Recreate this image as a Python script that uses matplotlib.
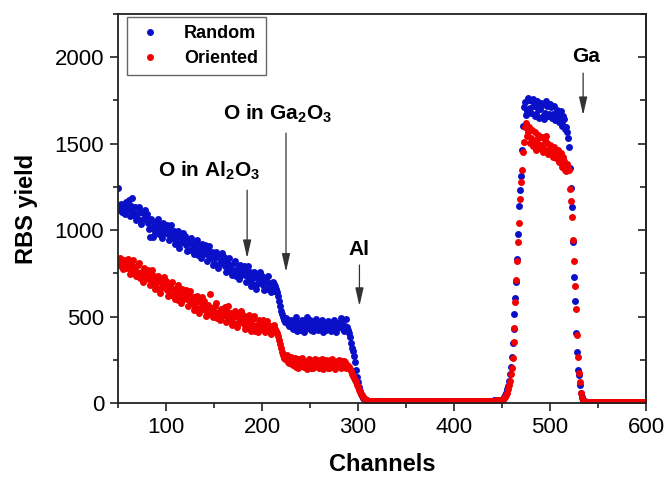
import numpy as np
import matplotlib
matplotlib.use("Agg")
import matplotlib.pyplot as plt
from matplotlib.ticker import MultipleLocator

plt.rcParams['font.family'] = ['Liberation Sans', 'DejaVu Sans']
plt.rcParams['mathtext.fontset'] = 'custom'
plt.rcParams['mathtext.rm'] = 'Liberation Sans'
plt.rcParams['mathtext.bf'] = 'Liberation Sans:bold'

# channel axis, one point per channel
channels = np.arange(50, 601)

# RBS yield, random incidence
random_yield = [
    1245, 1130, 1118, 1150, 1105, 1142, 1128, 1095, 1160, 1122,
    1140, 1172, 1119, 1081, 1138, 1185, 1087, 1099, 1136, 1058,
    1070, 1101, 1132, 1103, 1034, 1060, 1101, 1067, 1118, 1074,
    1095, 1041, 1007, 962, 1064, 1010, 958, 1042, 1008, 984,
    1010, 1047, 1064, 976, 1003, 1020, 957, 1039, 981, 1013,
    1000, 1032, 979, 941, 998, 1030, 957, 969, 996, 918,
    930, 962, 994, 966, 898, 925, 967, 934, 986, 943,
    965, 912, 879, 926, 938, 885, 957, 919, 886, 863,
    890, 927, 944, 856, 884, 900, 837, 919, 861, 893,
    880, 912, 859, 821, 878, 910, 837, 849, 876, 798,
    810, 842, 874, 846, 778, 805, 847, 814, 866, 823,
    845, 792, 759, 806, 818, 765, 837, 799, 766, 743,
    770, 807, 824, 736, 764, 780, 717, 799, 741, 773,
    760, 792, 739, 701, 758, 790, 717, 729, 756, 678,
    690, 723, 756, 729, 662, 690, 733, 705, 756, 712,
    735, 683, 651, 699, 712, 660, 733, 696, 664, 642,
    672, 700, 690, 650, 675, 660, 640, 618, 590, 562,
    535, 512, 495, 482, 470, 492, 478, 458, 448, 475,
    482, 440, 428, 462, 478, 495, 418, 438, 465, 450,
    425, 470, 480, 448, 412, 440, 472, 495, 432, 460,
    478, 425, 445, 415, 468, 458, 485, 435, 420, 452,
    440, 470, 482, 428, 412, 455, 465, 422, 445, 475,
    462, 432, 418, 442, 470, 480, 425, 412, 435, 458,
    438, 468, 490, 455, 428, 418, 445, 488, 430, 440,
    425, 405, 380, 347, 320, 300, 270, 239, 190, 150,
    123, 95, 70, 52, 40, 30, 24, 20, 16, 13,
    11, 10, 9, 11, 8, 10, 9, 12, 8, 9,
    8, 10, 7, 9, 11, 8, 9, 7, 10, 8,
    9, 7, 10, 8, 6, 9, 11, 8, 7, 9,
    8, 10, 7, 9, 8, 6, 9, 10, 7, 8,
    9, 8, 6, 10, 8, 7, 9, 8, 11, 7,
    8, 9, 7, 8, 10, 6, 8, 9, 7, 10,
    7, 9, 8, 6, 9, 8, 10, 7, 8, 9,
    8, 7, 10, 9, 6, 8, 9, 7, 8, 10,
    9, 8, 7, 9, 10, 8, 6, 9, 8, 7,
    10, 8, 9, 7, 8, 9, 11, 8, 7, 9,
    8, 10, 9, 7, 8, 9, 8, 10, 9, 11,
    9, 10, 8, 11, 9, 10, 12, 9, 11, 10,
    12, 10, 11, 13, 10, 12, 11, 13, 12, 14,
    13, 12, 15, 13, 14, 16, 15, 17, 16, 18,
    20, 25, 35, 45, 60, 80, 100, 130, 165, 208,
    266, 347, 430, 514, 607, 699, 832, 977, 1139, 1231,
    1314, 1462, 1601, 1713, 1742, 1665, 1690, 1765, 1752, 1705,
    1680, 1745, 1760, 1715, 1660, 1672, 1748, 1738, 1700, 1650,
    1702, 1735, 1722, 1658, 1645, 1680, 1748, 1718, 1662, 1670,
    1730, 1710, 1648, 1672, 1715, 1635, 1660, 1695, 1685, 1628,
    1650, 1688, 1615, 1600, 1660, 1640, 1585, 1598, 1570, 1530,
    1482, 1357, 1241, 1135, 932, 730, 590, 406, 297, 191,
    162, 104, 60, 35, 20, 12, 9, 8, 7, 7,
    7, 6, 8, 7, 5, 6, 8, 7, 6, 5,
    7, 6, 8, 5, 7, 6, 7, 8, 6, 5,
    6, 7, 5, 8, 6, 7, 6, 5, 7, 6,
    8, 6, 7, 5, 6, 7, 8, 6, 5, 7,
    6, 7, 5, 6, 8, 7, 6, 5, 7, 6,
    5, 7, 6, 8, 6, 5, 7, 6, 7, 5, 6,
]

# RBS yield, channeled (oriented) incidence
oriented_yield = [
    832, 805, 840, 790, 818, 775, 825, 798, 780, 812,
    835, 782, 749, 796, 808, 755, 827, 789, 756, 733,
    760, 796, 812, 723, 746, 760, 697, 778, 719, 749,
    740, 772, 719, 681, 738, 770, 697, 709, 736, 658,
    670, 702, 734, 706, 638, 665, 707, 674, 726, 683,
    705, 652, 619, 666, 678, 625, 697, 659, 626, 603,
    630, 667, 684, 596, 624, 640, 577, 659, 601, 633,
    620, 652, 599, 561, 618, 650, 577, 589, 616, 538,
    555, 587, 619, 591, 523, 550, 592, 559, 611, 568,
    590, 538, 506, 553, 567, 515, 630, 551, 519, 497,
    525, 563, 581, 494, 519, 525, 482, 543, 504, 537,
    525, 558, 506, 469, 527, 560, 478, 491, 519, 452,
    465, 498, 531, 504, 437, 465, 508, 480, 531, 487,
    510, 458, 426, 474, 487, 435, 508, 471, 439, 417,
    450, 488, 506, 419, 445, 451, 408, 482, 429, 462,
    455, 478, 436, 410, 452, 475, 415, 425, 448, 400,
    440, 425, 452, 418, 430, 418, 405, 388, 365, 340,
    318, 295, 275, 262, 252, 270, 275, 240, 232, 258,
    265, 225, 218, 250, 258, 210, 235, 252, 205, 222,
    212, 255, 262, 245, 208, 222, 240, 195, 228, 252,
    250, 205, 220, 200, 242, 255, 212, 225, 248, 202,
    210, 240, 255, 232, 198, 220, 245, 250, 215, 205,
    202, 248, 235, 255, 218, 210, 198, 238, 245, 215,
    250, 232, 205, 212, 242, 245, 235, 205, 222, 218,
    215, 208, 198, 185, 170, 158, 146, 135, 122, 105,
    90, 75, 62, 52, 44, 36, 30, 25, 20, 16,
    13, 11, 10, 9, 10, 8, 9, 10, 8, 9,
    7, 9, 8, 10, 7, 9, 8, 10, 6, 9,
    8, 10, 7, 9, 8, 7, 10, 9, 8, 6,
    9, 8, 10, 7, 9, 8, 7, 9, 10, 8,
    7, 9, 8, 10, 7, 8, 9, 7, 8, 10,
    9, 7, 8, 10, 9, 8, 7, 9, 8, 7,
    10, 8, 9, 7, 8, 10, 9, 8, 7, 9,
    8, 9, 7, 10, 8, 9, 8, 7, 10, 8,
    7, 10, 9, 8, 7, 9, 10, 8, 9, 8,
    9, 7, 8, 10, 9, 8, 7, 9, 10, 8,
    10, 8, 7, 9, 10, 8, 9, 8, 7, 9,
    8, 10, 9, 8, 10, 9, 11, 10, 9, 11,
    10, 11, 12, 10, 12, 11, 13, 12, 11, 13,
    12, 13, 14, 12, 14, 15, 14, 15, 16, 17,
    18, 22, 28, 35, 45, 60, 80, 105, 130, 165,
    202, 260, 353, 434, 584, 711, 821, 931, 1040, 1179,
    1279, 1347, 1453, 1510, 1597, 1617, 1545, 1565, 1598, 1505,
    1530, 1580, 1488, 1515, 1565, 1465, 1505, 1548, 1530, 1475,
    1478, 1495, 1538, 1450, 1470, 1522, 1545, 1505, 1440, 1462,
    1495, 1488, 1438, 1425, 1478, 1462, 1415, 1440, 1465, 1395,
    1430, 1445, 1385, 1365, 1420, 1400, 1350, 1340, 1385, 1360,
    1347, 1235, 1169, 1077, 942, 821, 678, 543, 393, 268,
    175, 123, 56, 30, 15, 10, 8, 7, 8, 6,
    6, 7, 5, 8, 6, 7, 5, 6, 7, 8,
    6, 5, 7, 6, 8, 7, 5, 6, 7, 6,
    8, 6, 7, 5, 7, 6, 8, 7, 5, 6,
    7, 5, 6, 8, 7, 6, 5, 7, 6, 8,
    5, 6, 7, 6, 5, 8, 7, 6, 6, 7,
    8, 6, 5, 7, 6, 7, 5, 8, 6, 7, 5,
]

# annotation labels: text, arrow channel, arrow top, arrow tip, text x, text baseline y
peak_labels = [r'O in Al$_\mathbf{2}$O$_\mathbf{3}$', r'O in Ga$_\mathbf{2}$O$_\mathbf{3}$', 'Al', 'Ga']
arrow_channel = [184.5, 225, 301.5, 534.5]
arrow_start = [1231, 1561, 798, 1908]
arrow_end = [838, 759, 561, 1665]
text_x = [145, 216, 301, 537.5]
text_y = [1308, 1642, 855, 1973]

assert len(random_yield) == len(channels) and len(oriented_yield) == len(channels)

fig = plt.figure(figsize=(6.69, 4.78), dpi=100)
ax = fig.add_axes([118/669, 75/478, 528/669, 389/478])

ax.plot(channels, random_yield, 'o', ms=5.0, color='#0a10c8', mec='none', label='Random')
ax.plot(channels, oriented_yield, 'o', ms=5.0, color='#f00000', mec='none', label='Oriented')

ax.set_xlim(50, 600)
ax.set_ylim(0, 2250)
ax.xaxis.set_major_locator(MultipleLocator(100))
ax.xaxis.set_minor_locator(MultipleLocator(50))
ax.yaxis.set_major_locator(MultipleLocator(500))
ax.yaxis.set_minor_locator(MultipleLocator(250))

for s in ax.spines.values():
    s.set_linewidth(1.3)
    s.set_color('#222222')

ax.tick_params(which='major', direction='out', length=6, width=1.2, labelsize=16, colors='#222222', pad=4)
ax.tick_params(which='minor', direction='out', length=3.5, width=1.2, colors='#222222')
for lab in ax.get_xticklabels() + ax.get_yticklabels():
    lab.set_color('black')

sec = ax.secondary_yaxis('right')
sec.yaxis.set_major_locator(MultipleLocator(500))
sec.yaxis.set_minor_locator(MultipleLocator(250))
sec.tick_params(which='major', direction='in', length=6, width=1.2, labelright=False, colors='#222222')
sec.tick_params(which='minor', direction='in', length=4, width=1.2, colors='#222222')
sec.spines['right'].set_linewidth(1.3)
sec.spines['right'].set_color('#222222')

ax.set_xlabel('Channels', fontsize=17, fontweight='bold', labelpad=11)
ax.set_ylabel('RBS yield', fontsize=17, fontweight='bold', labelpad=12)

for lab, xc, y0, y1, tx, ty in zip(peak_labels, arrow_channel, arrow_start, arrow_end, text_x, text_y):
    ax.annotate('', xy=(xc, y1), xytext=(xc, y0),
                arrowprops=dict(arrowstyle='-|>,head_length=1.1,head_width=0.25', color='#333333',
                                lw=0.9, shrinkA=0, shrinkB=0, mutation_scale=10))
    ax.text(tx, ty, lab, fontsize=15, fontweight='bold', ha='center', va='baseline')

leg = ax.legend(loc='upper left', bbox_to_anchor=(0.017, 0.992), borderaxespad=0,
                prop={'size': 13, 'weight': 'bold'}, fancybox=False, framealpha=1,
                edgecolor='#666666', handlelength=1.6, handletextpad=1.1,
                labelspacing=0.45, borderpad=0.45)
leg.get_frame().set_linewidth(1.0)

fig.savefig('out.png', dpi=100)
